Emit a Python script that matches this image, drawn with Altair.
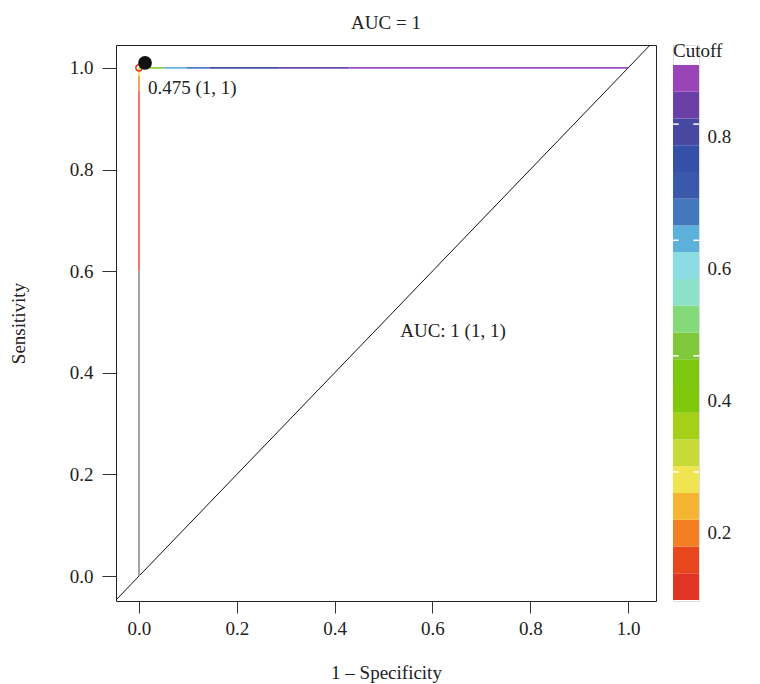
import altair as alt
import pandas as pd

FONT = "Liberation Serif"
FS = 19

# axis ticks
x_ticks = [0.0, 0.2, 0.4, 0.6, 0.8, 1.0]
y_ticks = [0.0, 0.2, 0.4, 0.6, 0.8, 1.0]
x_dom = [-0.047, 1.057]
y_dom = [-0.049, 1.045]

# ROC curve segments (coloured by cutoff)
seg_x1 = [0.0, 0.0, 0.0, 0.0, 0.0, 0.05, 0.098, 0.145, 0.288, 0.43]
seg_y1 = [0.0, 0.6, 0.955, 0.985, 1.0, 1.0, 1.0, 1.0, 1.0, 1.0]
seg_x2 = [0.0, 0.0, 0.0, 0.0, 0.05, 0.098, 0.145, 0.288, 0.43, 1.0]
seg_y2 = [0.6, 0.955, 0.985, 1.0, 1.0, 1.0, 1.0, 1.0, 1.0, 1.0]
seg_col = ["#9a9a9a", "#F06858", "#F5A040", "#E8E850", "#8CD040",
           "#68B4E0", "#4C80C4", "#4050A8", "#6A48B0", "#A04CC0"]

# optimal cutoff point and labels
best_x = [0.0123]
best_y = [1.0098]
thr_x = [0.0]
thr_y = [1.0]
best_label = ["0.475 (1, 1)"]
best_label_x = [0.0184]
best_label_y = [0.9606]
auc_label = ["AUC: 1 (1, 1)"]
auc_label_x = [0.534]
auc_label_y = [0.482]

# colour bar (cutoff)
band_lo = [0.097, 0.1375, 0.1781, 0.2186, 0.2591, 0.2997, 0.3402, 0.3807, 0.4212, 0.4618,
           0.5023, 0.5428, 0.5834, 0.6239, 0.6644, 0.7050, 0.7455, 0.7860, 0.8265, 0.8671]
band_hi = [0.1375, 0.1781, 0.2186, 0.2591, 0.2997, 0.3402, 0.3807, 0.4212, 0.4618, 0.5023,
           0.5428, 0.5834, 0.6239, 0.6644, 0.7050, 0.7455, 0.7860, 0.8265, 0.8671, 0.9076]
band_col = ["#E03424", "#E8461C", "#F47E22", "#F5B432", "#F0E450", "#C8DA38", "#A4D018",
            "#80C80C", "#7DC70E", "#7EC83A", "#84DA78", "#8CE2C8", "#8CDCE4", "#5CB0DC",
            "#4478BC", "#3A58AC", "#3450A8", "#4848A0", "#6A40A8", "#9A44B8"]
cb_ticks = [0.2, 0.4, 0.6, 0.8]
cb_white_ticks = [0.291, 0.467, 0.642, 0.818]
cb_dom = [0.0955, 0.9379]

xs = alt.Scale(domain=x_dom, nice=False, zero=False)
ys = alt.Scale(domain=y_dom, nice=False, zero=False)

x_axis = alt.Axis(values=x_ticks, format=".1f", tickSize=12, labelPadding=6, grid=False,
                  domain=False, title="1 – Specificity", titlePadding=25,
                  labelFont=FONT, titleFont=FONT, labelFontSize=FS, titleFontSize=FS,
                  titleFontWeight="normal", tickColor="#333333", labelColor="#222222",
                  titleColor="#222222", labelFlush=False)
y_axis = alt.Axis(values=y_ticks, format=".1f", tickSize=14, labelPadding=9, grid=False,
                  domain=False, title="Sensitivity", titlePadding=41,
                  labelFont=FONT, titleFont=FONT, labelFontSize=FS, titleFontSize=FS,
                  titleFontWeight="normal", tickColor="#333333", labelColor="#222222",
                  titleColor="#222222", labelFlush=False, labelAngle=0)

diag = pd.DataFrame({"x": [x_dom[0]], "y": [x_dom[0]], "x2": [x_dom[1]], "y2": [x_dom[1]]})
diag_layer = alt.Chart(diag).mark_rule(color="#111111", strokeWidth=1, clip=True).encode(
    x=alt.X("x:Q", scale=xs, axis=x_axis),
    y=alt.Y("y:Q", scale=ys, axis=y_axis),
    x2="x2:Q", y2="y2:Q",
)

segs = pd.DataFrame({"x": seg_x1, "y": seg_y1, "x2": seg_x2, "y2": seg_y2, "c": seg_col})
seg_layer = alt.Chart(segs).mark_rule(strokeWidth=1.8).encode(
    x=alt.X("x:Q", scale=xs), y=alt.Y("y:Q", scale=ys), x2="x2:Q", y2="y2:Q",
    color=alt.Color("c:N", scale=None),
)

best = pd.DataFrame({"x": best_x, "y": best_y})
best_layer = alt.Chart(best).mark_point(filled=True, color="#111111", size=190, opacity=1).encode(
    x=alt.X("x:Q", scale=xs), y=alt.Y("y:Q", scale=ys))

thr = pd.DataFrame({"x": thr_x, "y": thr_y})
thr_layer = alt.Chart(thr).mark_point(filled=False, color="#E8301C", size=40, strokeWidth=1.5,
                                      opacity=1).encode(
    x=alt.X("x:Q", scale=xs), y=alt.Y("y:Q", scale=ys))

lab = pd.DataFrame({"x": best_label_x + auc_label_x, "y": best_label_y + auc_label_y,
                    "t": best_label + auc_label})
lab_layer = alt.Chart(lab).mark_text(align="left", baseline="middle", font=FONT, fontSize=FS,
                                     color="#222222").encode(
    x=alt.X("x:Q", scale=xs), y=alt.Y("y:Q", scale=ys), text="t:N")

main = alt.layer(diag_layer, seg_layer, thr_layer, best_layer, lab_layer).properties(
    width=540, height=556,
    title=alt.TitleParams("AUC = 1", font=FONT, fontSize=FS, fontWeight="normal",
                          color="#222222", offset=12, anchor="middle"),
    view=alt.ViewBackground(stroke="#222222", strokeWidth=1),
)

# colour bar panel
cs = alt.Scale(domain=cb_dom, nice=False, zero=False)
bx = alt.Scale(domain=[0, 1], nice=False, zero=False)
cb = pd.DataFrame({"lo": band_lo, "hi": band_hi, "c": band_col})
cb_layer = alt.Chart(cb).mark_rect().encode(
    x=alt.datum(0, scale=bx, axis=None),
    x2=alt.datum(1),
    y=alt.Y("lo:Q", scale=cs, axis=alt.Axis(orient="right", values=cb_ticks, format=".1f",
                                             ticks=False, domain=False, grid=False,
                                             labelPadding=8, labelFont=FONT, labelFontSize=FS,
                                             labelColor="#222222", title=None, labelFlush=False)),
    y2="hi:Q",
    color=alt.Color("c:N", scale=None),
)
wt = pd.DataFrame({"v": cb_white_ticks})
wt_left = alt.Chart(wt).mark_rule(color="white", strokeWidth=1.5).encode(
    x=alt.datum(0, scale=bx), x2=alt.datum(0.22), y=alt.Y("v:Q", scale=cs))
wt_right = alt.Chart(wt).mark_rule(color="white", strokeWidth=1.5).encode(
    x=alt.datum(0.78, scale=bx), x2=alt.datum(1), y=alt.Y("v:Q", scale=cs))
cb_title = alt.Chart(pd.DataFrame({"t": ["Cutoff"], "y": [0.929]})).mark_text(
    align="left", baseline="middle", font=FONT, fontSize=FS, color="#222222").encode(
    x=alt.datum(0, scale=bx), y=alt.Y("y:Q", scale=cs), text="t:N")

colorbar = alt.layer(cb_layer, wt_left, wt_right, cb_title).properties(width=26, height=556)

chart = alt.hconcat(main, colorbar, spacing=14).properties(
    padding={"left": 0, "top": 5, "right": 0, "bottom": 0}
).configure_view(strokeWidth=0).configure(background="white")

chart.save("out.html", embed_options={"renderer": "svg", "actions": False})
